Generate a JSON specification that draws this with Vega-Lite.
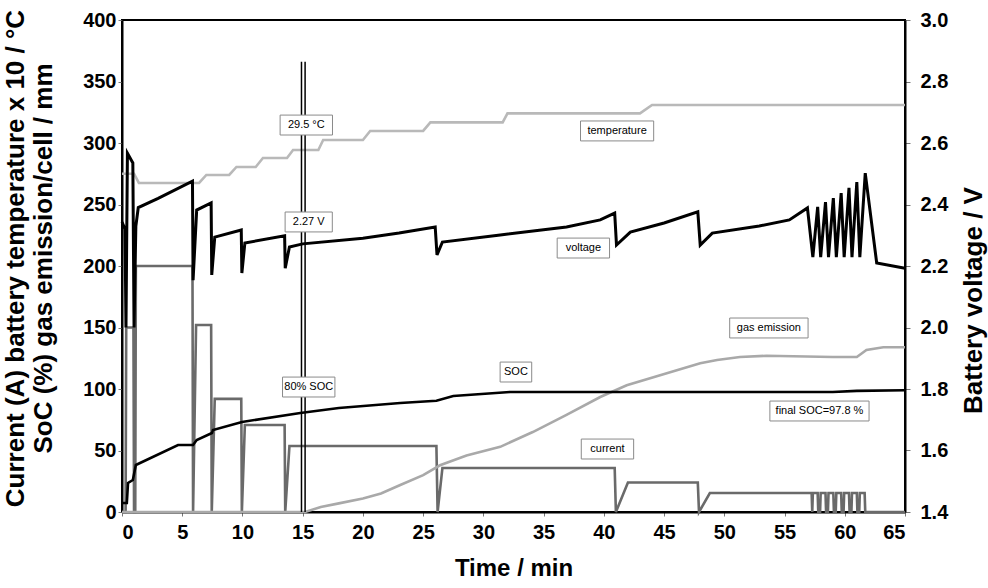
{
  "$schema": "https://vega.github.io/schema/vega-lite/v6.json",
  "width": 783,
  "height": 492,
  "autosize": {"type": "none"},
  "padding": {"left": 122, "top": 20, "right": 83, "bottom": 76},
  "background": "white",
  "config": {
    "view": {"stroke": "black", "strokeWidth": 2},
    "font": "Liberation Sans",
    "axis": {
      "grid": false,
      "domainColor": "black",
      "domainWidth": 2,
      "tickColor": "#777777",
      "tickSize": 4,
      "labelFont": "Liberation Sans",
      "labelFontWeight": "bold",
      "labelFontSize": 20,
      "labelColor": "black",
      "titleFont": "Liberation Sans",
      "titleFontWeight": "bold",
      "titleColor": "black"
    }
  },
  "datasets": {
    "series": [
      {"s": "current", "t": 0, "v": 0}, {"s": "current", "t": 0.3, "v": 0}, {"s": "current", "t": 0.35, "v": 150}, {"s": "current", "t": 0.95, "v": 150}, {"s": "current", "t": 1.0, "v": 0}, {"s": "current", "t": 1.1, "v": 0}, {"s": "current", "t": 1.15, "v": 200}, {"s": "current", "t": 5.85, "v": 200}, {"s": "current", "t": 5.9, "v": 0}, {"s": "current", "t": 6.15, "v": 152}, {"s": "current", "t": 7.4, "v": 152}, {"s": "current", "t": 7.45, "v": 0}, {"s": "current", "t": 7.7, "v": 92}, {"s": "current", "t": 9.9, "v": 92}, {"s": "current", "t": 9.95, "v": 0}, {"s": "current", "t": 10.2, "v": 70.7}, {"s": "current", "t": 13.5, "v": 70.7}, {"s": "current", "t": 13.55, "v": 0}, {"s": "current", "t": 13.9, "v": 53.7}, {"s": "current", "t": 26.1, "v": 53.7}, {"s": "current", "t": 26.2, "v": 0}, {"s": "current", "t": 26.6, "v": 35.8}, {"s": "current", "t": 40.9, "v": 35.8}, {"s": "current", "t": 41.0, "v": 0}, {"s": "current", "t": 42.0, "v": 24}, {"s": "current", "t": 47.8, "v": 24}, {"s": "current", "t": 47.9, "v": 0}, {"s": "current", "t": 48.8, "v": 15.4}, {"s": "current", "t": 57.25, "v": 15.4}, {"s": "current", "t": 57.3, "v": 0}, {"s": "current", "t": 57.35, "v": 15.4}, {"s": "current", "t": 57.75, "v": 15.4}, {"s": "current", "t": 57.8, "v": 0}, {"s": "current", "t": 57.95, "v": 0}, {"s": "current", "t": 58.0, "v": 15.4}, {"s": "current", "t": 58.4, "v": 15.4}, {"s": "current", "t": 58.45, "v": 0}, {"s": "current", "t": 58.6, "v": 0}, {"s": "current", "t": 58.65, "v": 15.4}, {"s": "current", "t": 59.05, "v": 15.4}, {"s": "current", "t": 59.1, "v": 0}, {"s": "current", "t": 59.25, "v": 0}, {"s": "current", "t": 59.3, "v": 15.4}, {"s": "current", "t": 59.7, "v": 15.4}, {"s": "current", "t": 59.75, "v": 0}, {"s": "current", "t": 59.9, "v": 0}, {"s": "current", "t": 59.95, "v": 15.4}, {"s": "current", "t": 60.35, "v": 15.4}, {"s": "current", "t": 60.4, "v": 0}, {"s": "current", "t": 60.55, "v": 0}, {"s": "current", "t": 60.6, "v": 15.4}, {"s": "current", "t": 61.0, "v": 15.4}, {"s": "current", "t": 61.05, "v": 0}, {"s": "current", "t": 61.2, "v": 0}, {"s": "current", "t": 61.25, "v": 15.4}, {"s": "current", "t": 61.65, "v": 15.4}, {"s": "current", "t": 61.7, "v": 0}, {"s": "current", "t": 65, "v": 0},
      {"s": "gas emission", "t": 0, "v": 0}, {"s": "gas emission", "t": 15.2, "v": 0}, {"s": "gas emission", "t": 16.5, "v": 4}, {"s": "gas emission", "t": 18, "v": 7}, {"s": "gas emission", "t": 20, "v": 11}, {"s": "gas emission", "t": 21.5, "v": 15}, {"s": "gas emission", "t": 23.1, "v": 22}, {"s": "gas emission", "t": 25, "v": 30}, {"s": "gas emission", "t": 26.4, "v": 38}, {"s": "gas emission", "t": 28.6, "v": 46}, {"s": "gas emission", "t": 31.4, "v": 53}, {"s": "gas emission", "t": 34.1, "v": 65}, {"s": "gas emission", "t": 36.9, "v": 79}, {"s": "gas emission", "t": 39.7, "v": 93.5}, {"s": "gas emission", "t": 41.9, "v": 103}, {"s": "gas emission", "t": 44.6, "v": 111}, {"s": "gas emission", "t": 48.0, "v": 121}, {"s": "gas emission", "t": 49.4, "v": 123.6}, {"s": "gas emission", "t": 51.3, "v": 126}, {"s": "gas emission", "t": 53.5, "v": 127}, {"s": "gas emission", "t": 59.0, "v": 126}, {"s": "gas emission", "t": 61.0, "v": 126}, {"s": "gas emission", "t": 61.8, "v": 131.7}, {"s": "gas emission", "t": 63.2, "v": 134}, {"s": "gas emission", "t": 65, "v": 134},
      {"s": "temperature", "t": 0, "v": 275}, {"s": "temperature", "t": 1.0, "v": 275}, {"s": "temperature", "t": 1.4, "v": 267.5}, {"s": "temperature", "t": 6.4, "v": 267.5}, {"s": "temperature", "t": 7.0, "v": 274}, {"s": "temperature", "t": 8.9, "v": 274}, {"s": "temperature", "t": 9.5, "v": 280.5}, {"s": "temperature", "t": 11.1, "v": 280.5}, {"s": "temperature", "t": 11.7, "v": 287.8}, {"s": "temperature", "t": 13.7, "v": 287.8}, {"s": "temperature", "t": 14.2, "v": 294.3}, {"s": "temperature", "t": 16.3, "v": 294.3}, {"s": "temperature", "t": 16.7, "v": 302.4}, {"s": "temperature", "t": 20.0, "v": 302.4}, {"s": "temperature", "t": 20.6, "v": 309.8}, {"s": "temperature", "t": 25.0, "v": 309.8}, {"s": "temperature", "t": 25.6, "v": 316.8}, {"s": "temperature", "t": 31.6, "v": 316.8}, {"s": "temperature", "t": 32.0, "v": 324.1}, {"s": "temperature", "t": 43.0, "v": 324.1}, {"s": "temperature", "t": 44.0, "v": 330.9}, {"s": "temperature", "t": 65, "v": 330.9},
      {"s": "SOC", "t": 0, "v": 7.3}, {"s": "SOC", "t": 0.4, "v": 7.3}, {"s": "SOC", "t": 0.5, "v": 23.6}, {"s": "SOC", "t": 0.9, "v": 26}, {"s": "SOC", "t": 1.15, "v": 38.2}, {"s": "SOC", "t": 4.65, "v": 54.5}, {"s": "SOC", "t": 5.9, "v": 54.5}, {"s": "SOC", "t": 6.2, "v": 58.5}, {"s": "SOC", "t": 7.47, "v": 64.2}, {"s": "SOC", "t": 7.55, "v": 66.7}, {"s": "SOC", "t": 9.96, "v": 73.2}, {"s": "SOC", "t": 14.8, "v": 80.5}, {"s": "SOC", "t": 18, "v": 84.5}, {"s": "SOC", "t": 23.1, "v": 88.6}, {"s": "SOC", "t": 26.1, "v": 90.5}, {"s": "SOC", "t": 27.5, "v": 94.3}, {"s": "SOC", "t": 32.2, "v": 97.6}, {"s": "SOC", "t": 59, "v": 97.6}, {"s": "SOC", "t": 61, "v": 98.5}, {"s": "SOC", "t": 65, "v": 99}
    ],
    "voltage": [
      {"t": 0, "V": 2.343}, {"t": 0.25, "V": 2.32}, {"t": 0.33, "V": 2.0}, {"t": 0.45, "V": 2.567}, {"t": 0.9, "V": 2.535}, {"t": 1.0, "V": 2.0}, {"t": 1.15, "V": 2.33}, {"t": 1.35, "V": 2.39}, {"t": 3, "V": 2.42}, {"t": 5.85, "V": 2.476}, {"t": 5.9, "V": 2.154}, {"t": 6.2, "V": 2.382}, {"t": 7.4, "V": 2.405}, {"t": 7.45, "V": 2.171}, {"t": 7.7, "V": 2.294}, {"t": 9.9, "V": 2.317}, {"t": 9.95, "V": 2.177}, {"t": 10.2, "V": 2.275}, {"t": 13.5, "V": 2.298}, {"t": 13.55, "V": 2.193}, {"t": 13.9, "V": 2.262}, {"t": 15, "V": 2.272}, {"t": 20, "V": 2.29}, {"t": 23, "V": 2.307}, {"t": 26.0, "V": 2.327}, {"t": 26.15, "V": 2.236}, {"t": 26.6, "V": 2.278}, {"t": 31.4, "V": 2.301}, {"t": 36.9, "V": 2.327}, {"t": 39.7, "V": 2.35}, {"t": 40.9, "V": 2.372}, {"t": 41.05, "V": 2.268}, {"t": 42.2, "V": 2.31}, {"t": 45, "V": 2.34}, {"t": 47.8, "V": 2.376}, {"t": 48.0, "V": 2.268}, {"t": 49.0, "V": 2.307}, {"t": 52.9, "V": 2.33}, {"t": 55.4, "V": 2.35}, {"t": 56.9, "V": 2.389}, {"t": 57.35, "V": 2.229}, {"t": 57.75, "V": 2.392}, {"t": 58.0, "V": 2.229}, {"t": 58.4, "V": 2.408}, {"t": 58.65, "V": 2.229}, {"t": 59.05, "V": 2.421}, {"t": 59.3, "V": 2.229}, {"t": 59.7, "V": 2.437}, {"t": 59.95, "V": 2.229}, {"t": 60.35, "V": 2.454}, {"t": 60.6, "V": 2.229}, {"t": 61.0, "V": 2.473}, {"t": 61.25, "V": 2.229}, {"t": 61.7, "V": 2.502}, {"t": 62.65, "V": 2.21}, {"t": 65, "V": 2.193}
    ],
    "labels": [
      {"label": "29.5 °C", "t": 15.3, "v": 314.6},
      {"label": "2.27 V", "t": 15.5, "v": 235.8},
      {"label": "temperature", "t": 41.1, "v": 309.8},
      {"label": "voltage", "t": 38.3, "v": 214.6},
      {"label": "gas emission", "t": 53.7, "v": 149.6},
      {"label": "SOC", "t": 32.7, "v": 113.8},
      {"label": "80% SOC", "t": 15.5, "v": 101.6},
      {"label": "current", "t": 40.3, "v": 51.2},
      {"label": "final SOC=97.8 %", "t": 57.9, "v": 82.1}
    ],
    "marker": [{"t": 14.9}, {"t": 15.2}]
  },
  "layer": [
    {
      "data": {"name": "series"},
      "mark": {"type": "line", "strokeWidth": 2.6},
      "encoding": {
        "x": {"field": "t", "type": "quantitative", "scale": {"domain": [0, 65], "nice": false},
          "axis": {"values": [0, 5, 10, 15, 20, 25, 30, 35, 40, 45, 50, 55, 60, 65], "title": "Time / min", "titleFontSize": 24, "labelPadding": 6, "titlePadding": 14}},
        "y": {"field": "v", "type": "quantitative", "scale": {"domain": [0, 400], "nice": false},
          "axis": {"orient": "left", "values": [0, 50, 100, 150, 200, 250, 300, 350, 400], "labelPadding": 2,
            "title": ["Current  (A) battery temperature x 10  / °C", "SoC (%)  gas emission/cell / mm"],
            "titleFontSize": 26, "titleLineHeight": 28, "titleX": -94, "titleY": 238, "titleAlign": "center", "titleBaseline": "bottom", "titleAngle": 270}},
        "color": {"field": "s", "type": "nominal", "legend": null,
          "scale": {"domain": ["current", "gas emission", "temperature", "SOC"], "range": ["#6a6a6a", "#a9a9a9", "#b9b9b9", "#000000"]}}
      }
    },
    {
      "data": {"name": "marker"},
      "mark": {"type": "rule", "color": "black", "strokeWidth": 1.5},
      "encoding": {
        "x": {"field": "t", "type": "quantitative"},
        "y": {"datum": 0, "type": "quantitative", "scale": {"domain": [0, 400], "nice": false}, "axis": null},
        "y2": {"datum": 366}
      }
    },
    {
      "data": {"name": "voltage"},
      "mark": {"type": "line", "color": "black", "strokeWidth": 3},
      "encoding": {
        "x": {"field": "t", "type": "quantitative"},
        "y": {"field": "V", "type": "quantitative", "scale": {"domain": [1.4, 3.0], "nice": false, "zero": false},
          "axis": {"orient": "right", "values": [1.4, 1.6, 1.8, 2.0, 2.2, 2.4, 2.6, 2.8, 3.0], "format": ".1f", "tickSize": 5, "labelPadding": 10,
            "title": "Battery voltage  / V", "titleFontSize": 26, "titleAngle": 270, "titleBaseline": "top", "titleAlign": "center", "titleX": 55, "titleY": 280}}
      }
    },
    {
      "data": {"name": "labels"},
      "transform": [
        {"calculate": "(length(datum.label) * 5.2 + 16) / 2 / 12.05", "as": "hw"},
        {"calculate": "datum.t - datum.hw", "as": "bx1"},
        {"calculate": "datum.t + datum.hw", "as": "bx2"},
        {"calculate": "datum.v - 8.1", "as": "by1"},
        {"calculate": "datum.v + 8.1", "as": "by2"}
      ],
      "mark": {"type": "rect", "fill": "white", "stroke": "#8a8a8a", "strokeWidth": 1},
      "encoding": {
        "x": {"field": "bx1", "type": "quantitative"},
        "x2": {"field": "bx2"},
        "y": {"field": "by1", "type": "quantitative", "scale": {"domain": [0, 400], "nice": false}, "axis": null},
        "y2": {"field": "by2"}
      }
    },
    {
      "data": {"name": "labels"},
      "mark": {"type": "text", "font": "Liberation Sans", "fontSize": 11, "color": "black", "align": "center", "baseline": "middle"},
      "encoding": {
        "x": {"field": "t", "type": "quantitative"},
        "y": {"field": "v", "type": "quantitative", "scale": {"domain": [0, 400], "nice": false}, "axis": null},
        "text": {"field": "label"}
      }
    }
  ],
  "resolve": {"scale": {"y": "independent"}}
}
